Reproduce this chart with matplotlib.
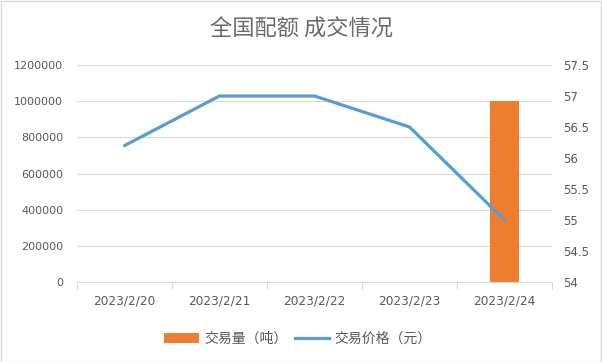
import matplotlib
matplotlib.use("Agg")
import matplotlib.pyplot as plt
import numpy as np
from matplotlib.patches import Rectangle, Patch
from matplotlib.lines import Line2D

plt.rcParams['font.family'] = ['DejaVu Sans', 'Noto Sans CJK SC']

# data
dates = ['2023/2/20', '2023/2/21', '2023/2/22', '2023/2/23', '2023/2/24']
volume = [0, 0, 0, 0, 1000000]          # 交易量（吨）
price = [56.2, 57.0, 57.0, 56.5, 55.0]  # 交易价格（元）

txt = '#595959'
grid = '#d9d9d9'
orange = '#ed7d31'
blue = '#5b9bd5'

fig = plt.figure(figsize=(6.02, 3.62), dpi=100)
ax = fig.add_axes([77/602, 1-282/362, (552-77)/602, (282-65)/362])
ax2 = ax.twinx()

x = np.arange(len(dates))
ax.bar(x, volume, width=0.31, color=orange, zorder=2)
ax2.plot(x, price, color=blue, lw=2.3, solid_capstyle='round', zorder=3)

ax.set_xlim(-0.5, len(dates) - 0.5)
ax.set_ylim(0, 1200000)
ax.set_yticks(np.arange(0, 1200001, 200000))
ax.set_yticklabels([str(v) for v in range(0, 1200001, 200000)])
ax2.set_ylim(54, 57.5)
ax2.set_yticks(np.arange(54, 57.51, 0.5))
ax2.set_yticklabels(['%g' % v for v in np.arange(54, 57.51, 0.5)])

# category boundary ticks, labels in the middle
ax.set_xticks(np.arange(-0.5, len(dates)), minor=False)
ax.set_xticklabels([])
ax.set_xticks(x, minor=True)
ax.set_xticklabels(dates, minor=True)
ax.tick_params(axis='x', which='major', length=5, color=grid, direction='out')
ax.tick_params(axis='x', which='minor', length=0, pad=9, labelsize=8.7, labelcolor=txt)
ax.tick_params(axis='y', length=0, pad=10, labelsize=8, labelcolor=txt)
ax2.tick_params(axis='y', length=0, pad=8, labelsize=8.5, labelcolor=txt)

ax.yaxis.grid(True, color=grid, lw=0.8, zorder=0)
ax.set_axisbelow(True)
for a in (ax, ax2):
    for s in ('top', 'left', 'right'):
        a.spines[s].set_visible(False)
    a.spines['bottom'].set_color(grid)
ax2.spines['bottom'].set_visible(False)

fig.text(0.5, 1-29/362, '全国配额 成交情况', ha='center', va='center',
         fontsize=16, color='#6a6a6a', family=['Noto Sans CJK SC', 'DejaVu Sans'])

handles = [Patch(facecolor=orange, edgecolor='none'),
           Line2D([0], [0], color=blue, lw=2.3)]
leg = fig.legend(handles, ['交易量（吨）', '交易价格（元）'], loc='center',
                 bbox_to_anchor=(0.495, 1-339/362), ncol=2, frameon=False,
                 handlelength=2.5, handleheight=0.7, handletextpad=0.4,
                 columnspacing=0.5,
                 prop={'family': ['Noto Sans CJK SC', 'DejaVu Sans'], 'size': 10})
for t in leg.get_texts():
    t.set_color(txt)

fig.patches.append(Rectangle((0.5/602, 0.5/362), 1-1.5/602, 1-1.5/362,
                             transform=fig.transFigure, fill=False,
                             edgecolor=grid, lw=1))

fig.savefig('out.png', dpi=100)
